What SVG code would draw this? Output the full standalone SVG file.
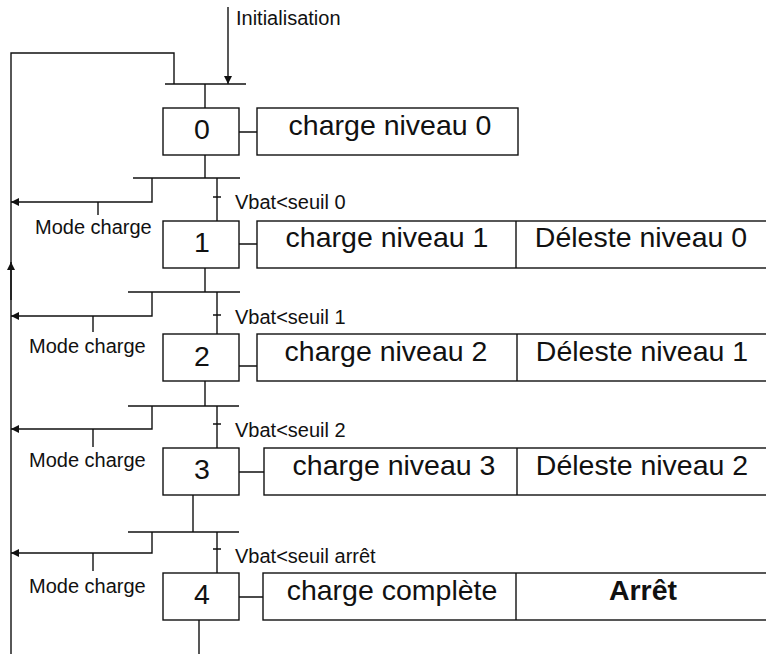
<svg xmlns="http://www.w3.org/2000/svg" width="766" height="654" viewBox="0 0 766 654">
<defs>
<marker id="ah" viewBox="0 0 10 10" refX="10" refY="5" markerWidth="9" markerHeight="8" markerUnits="userSpaceOnUse" orient="auto">
<path d="M0,0 L10,5 L0,10 z" fill="#111"/>
</marker>
</defs>
<style>
.ln{stroke:#111;stroke-width:1.4;fill:none}
.bx{stroke:#111;stroke-width:1.4;fill:#fff}
.sm{font-family:"Liberation Sans",Arial,sans-serif;font-size:20px;fill:#111}
.lg{font-family:"Liberation Sans",Arial,sans-serif;font-size:28.5px;fill:#111;text-anchor:middle}
.bd{font-weight:bold}
</style>
<rect width="766" height="654" fill="#fff"/>
<g id="connectors">
<path class="ln" d="M11,654 V53 H174 V84"/>
<path class="ln" d="M11,300 V262" marker-end="url(#ah)"/>
<path class="ln" d="M228,7 V84" marker-end="url(#ah)"/>
<path class="ln" d="M165,84 H246"/>
<path class="ln" d="M205,84 V108"/>
<path class="ln" d="M205,155 V178"/>
<path class="ln" d="M133,178 H240"/>
<path class="ln" d="M152,178 V202 H11" marker-end="url(#ah)"/>
<path class="ln" d="M98,202 V215"/>
<path class="ln" d="M217,178 V221 M213,197 H221"/>
<path class="ln" d="M205,268 V292"/>
<path class="ln" d="M128,292 H240"/>
<path class="ln" d="M152,292 V316 H11" marker-end="url(#ah)"/>
<path class="ln" d="M93,316 V332"/>
<path class="ln" d="M217,292 V334 M213,315 H221"/>
<path class="ln" d="M205,381 V406"/>
<path class="ln" d="M128,406 H239"/>
<path class="ln" d="M152,406 V429 H11" marker-end="url(#ah)"/>
<path class="ln" d="M93,429 V447"/>
<path class="ln" d="M217,406 V448 M213,424 H221"/>
<path class="ln" d="M193,495 V532"/>
<path class="ln" d="M128,532 H239"/>
<path class="ln" d="M152,532 V553 H11" marker-end="url(#ah)"/>
<path class="ln" d="M93,553 V571"/>
<path class="ln" d="M217,532 V573 M213,549 H221"/>
<path class="ln" d="M199,620 V654"/>
<path class="ln" d="M239,132 H257 M239,244 H257 M239,366 H257 M239,472 H264 M239,597 H263"/>
</g>
<g id="labels">
<text class="sm" x="236" y="25">Initialisation</text>
<text class="sm" x="235" y="209">Vbat&lt;seuil 0</text>
<text class="sm" x="35" y="234">Mode charge</text>
<text class="sm" x="235" y="324">Vbat&lt;seuil 1</text>
<text class="sm" x="29" y="353">Mode charge</text>
<text class="sm" x="235" y="437">Vbat&lt;seuil 2</text>
<text class="sm" x="29" y="467">Mode charge</text>
<text class="sm" x="235" y="563">Vbat&lt;seuil arrêt</text>
<text class="sm" x="29" y="593">Mode charge</text>
</g>
<g id="step0">
<rect class="bx" x="163" y="108" width="76" height="47"/>
<text class="lg" x="202" y="139">0</text>
</g>
<g id="action0">
<rect class="bx" x="257" y="108" width="261" height="47"/>
<text class="lg" x="390" y="135">charge niveau 0</text>
</g>
<g id="step1">
<rect class="bx" x="163" y="221" width="76" height="47"/>
<text class="lg" x="202" y="252">1</text>
</g>
<g id="action1">
<rect class="bx" x="257" y="221" width="520" height="47"/>
<path class="ln" d="M516,221 V268"/>
<text class="lg" x="387" y="247">charge niveau 1</text>
<text class="lg" x="641" y="247">Déleste niveau 0</text>
</g>
<g id="step2">
<rect class="bx" x="163" y="334" width="76" height="47"/>
<text class="lg" x="202" y="366">2</text>
</g>
<g id="action2">
<rect class="bx" x="257" y="334" width="520" height="47"/>
<path class="ln" d="M517,334 V381"/>
<text class="lg" x="386" y="361">charge niveau 2</text>
<text class="lg" x="642" y="361">Déleste niveau 1</text>
</g>
<g id="step3">
<rect class="bx" x="163" y="448" width="76" height="47"/>
<text class="lg" x="202" y="479">3</text>
</g>
<g id="action3">
<rect class="bx" x="264" y="448" width="513" height="47"/>
<path class="ln" d="M517,448 V495"/>
<text class="lg" x="394" y="475">charge niveau 3</text>
<text class="lg" x="642" y="475">Déleste niveau 2</text>
</g>
<g id="step4">
<rect class="bx" x="163" y="573" width="76" height="47"/>
<text class="lg" x="202" y="604">4</text>
</g>
<g id="action4">
<rect class="bx" x="263" y="573" width="514" height="47"/>
<path class="ln" d="M516,573 V620"/>
<text class="lg" x="392" y="600">charge complète</text>
<text class="lg bd" x="643" y="600">Arrêt</text>
</g>
</svg>
